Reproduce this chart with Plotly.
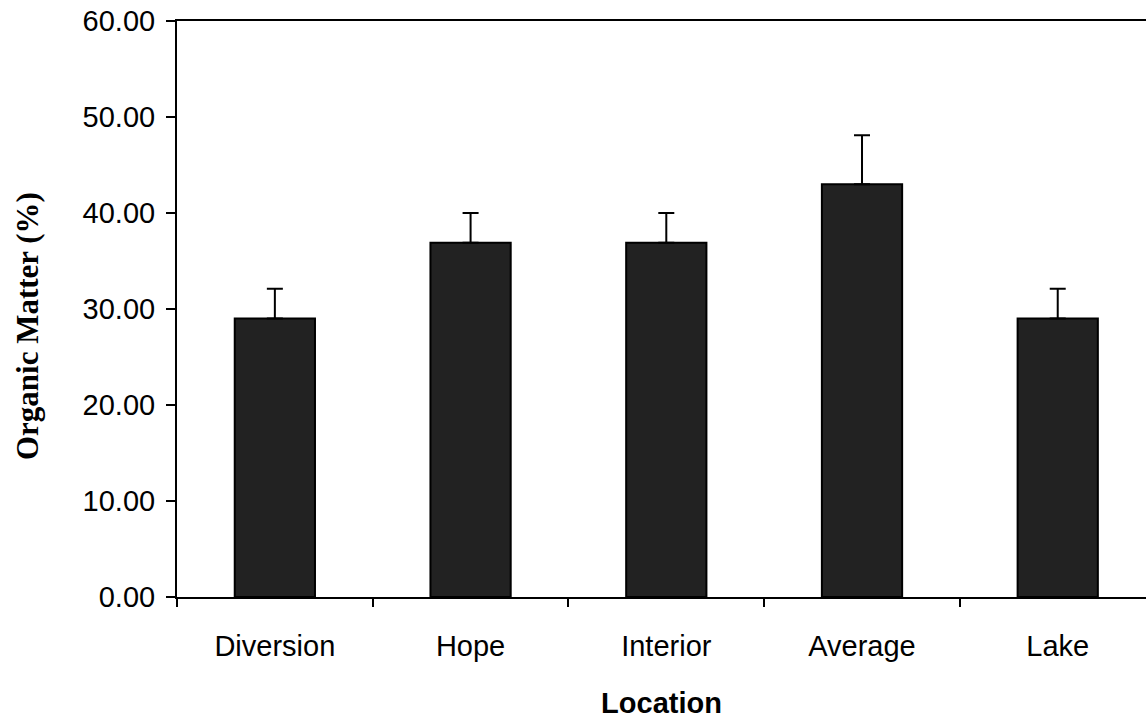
import plotly.graph_objects as go

categories = ["Diversion", "Hope", "Interior", "Average", "Lake"]
organic_matter = [29.0, 36.9, 36.9, 43.0, 29.0]
error_upper = [3.1, 3.1, 3.1, 5.1, 3.1]
y_ticks = [0, 10, 20, 30, 40, 50, 60]
y_tick_text = ["0.00", "10.00", "20.00", "30.00", "40.00", "50.00", "60.00"]

fig = go.Figure()
fig.add_trace(go.Bar(
    x=categories,
    y=organic_matter,
    width=0.41,
    marker=dict(color="#222222", line=dict(color="black", width=2)),
    error_y=dict(type="data", symmetric=False, array=error_upper,
                 arrayminus=[0] * len(error_upper),
                 color="black", thickness=2, width=8),
))

fig.add_annotation(
    text="<b>Organic Matter (%)</b>",
    xref="paper", yref="paper",
    x=-0.154, y=0.47, xanchor="center", yanchor="middle",
    textangle=-90, showarrow=False,
    font=dict(family="Liberation Serif, Times New Roman", size=31, color="black"),
)

fig.update_layout(
    width=1146, height=719,
    margin=dict(l=177, r=0, t=21, b=122),
    plot_bgcolor="white", paper_bgcolor="white",
    showlegend=False,
    font=dict(family="Liberation Sans, Arial", size=29, color="black"),
    xaxis=dict(
        type="category",
        range=[-0.5, 4.451],
        showline=True, linecolor="black", linewidth=2, mirror=True,
        ticks="outside", ticklen=8, tickwidth=2, tickcolor="black",
        tickson="boundaries",
        showgrid=False, zeroline=False,
        tickfont=dict(family="Liberation Sans, Arial", size=29),
        ticklabelstandoff=22,
        title=dict(text="<b>Location</b>",
                   font=dict(family="Liberation Sans, Arial", size=29),
                   standoff=36),
    ),
    yaxis=dict(
        range=[0, 60],
        tickvals=y_ticks, ticktext=y_tick_text,
        showline=True, linecolor="black", linewidth=2,
        ticks="outside", ticklen=9, tickwidth=2, tickcolor="black",
        showgrid=False, zeroline=False,
        tickfont=dict(family="Liberation Sans, Arial", size=29),
        ticklabelstandoff=5,
    ),
)

fig.write_html("out.html")
